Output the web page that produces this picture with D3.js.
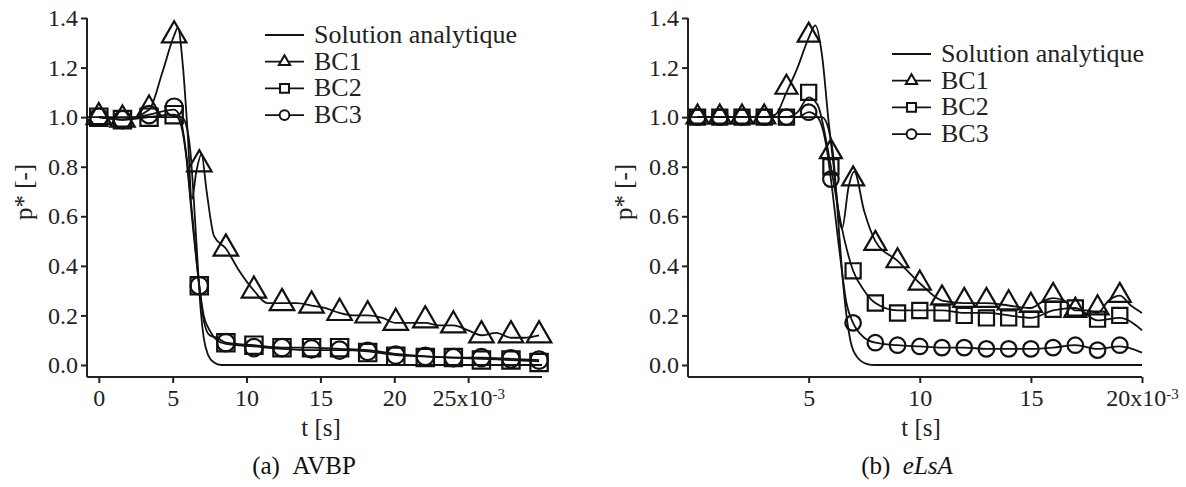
<!DOCTYPE html>
<html><head><meta charset="utf-8">
<script src="https://cdn.jsdelivr.net/npm/d3@7"></script>
<style>
html,body{margin:0;padding:0;background:#fff;}
svg{display:block;}
svg text{font-family:"Liberation Serif","Times New Roman",serif;}
</style></head>
<body><svg id="chart" width="1186" height="487"></svg>
<script>
// ---------- DATA ----------
const legendLabels = ["Solution analytique", "BC1", "BC2", "BC3"];
const yTicks = [0, 0.2, 0.4, 0.6, 0.8, 1.0, 1.2, 1.4];
const xTicksA = [0, 5, 10, 15, 20, 25];
const xTicksB = [5, 10, 15, 20];
const captionA = ["(a)", "AVBP"];
const captionB = ["(b)", "eLsA"];

// Panel (a) AVBP : marker times (x1e-3 s) and values
const tMarkA = [0, 1.6, 3.4, 5.1, 6.8, 8.6, 10.5, 12.4, 14.4, 16.3, 18.2, 20.1, 22.1, 24.0, 25.9, 27.9, 29.8];
const bc1A = [1.00, 0.99, 1.03, 1.33, 0.81, 0.47, 0.30, 0.25, 0.24, 0.21, 0.20, 0.17, 0.18, 0.16, 0.12, 0.12, 0.12];
const bc2A = [1.00, 0.99, 1.00, 1.01, 0.32, 0.09, 0.08, 0.07, 0.07, 0.07, 0.05, 0.035, 0.03, 0.03, 0.02, 0.02, 0.01];
const bc3A = [1.00, 0.99, 1.01, 1.04, 0.32, 0.09, 0.07, 0.07, 0.065, 0.06, 0.055, 0.04, 0.035, 0.03, 0.03, 0.025, 0.02];
const anaLineA = [[-0.8,1],[5.6,1],[5.9,0.97],[6.2,0.86],[6.5,0.6],[6.7,0.4],[6.9,0.22],[7.1,0.11],[7.4,0.04],[7.8,0.01],[8.3,0],[30,0]];
const bc1LineA = [[0,1],[1.6,0.99],[3.4,1.03],[4.3,1.18],[5.1,1.33],[5.35,1.36],[5.7,1.2],[6.0,0.95],[6.3,0.67],[6.6,0.78],[6.95,0.85],[7.3,0.7],[7.8,0.52],[8.6,0.47],[9.5,0.38],[10.5,0.3],[11.4,0.25],[12.4,0.25],[13.4,0.25],[14.4,0.24],[15.3,0.23],[16.3,0.21],[17.2,0.2],[18.2,0.2],[19.2,0.19],[20.1,0.17],[21.1,0.17],[22.1,0.17],[23.0,0.16],[24.0,0.16],[25.0,0.14],[25.9,0.12],[26.9,0.13],[27.9,0.11],[28.8,0.11],[29.8,0.12]];
const bc2LineA = [[0,1],[1.6,0.99],[3.4,1.0],[5.1,1.01],[5.5,0.98],[5.9,0.85],[6.3,0.6],[6.8,0.32],[7.1,0.18],[7.5,0.12],[8.0,0.11],[8.6,0.09],[10.5,0.08],[12.4,0.07],[14.4,0.07],[16.3,0.065],[18.2,0.06],[20.1,0.045],[22.1,0.035],[24.0,0.03],[25.9,0.025],[27.9,0.02],[29.8,0.015]];
const bc3LineA = [[0,1],[1.6,0.99],[3.4,1.01],[5.1,1.03],[5.5,1.0],[5.9,0.86],[6.3,0.62],[6.8,0.32],[7.1,0.2],[7.5,0.14],[8.0,0.1],[8.6,0.085],[10.5,0.075],[12.4,0.065],[14.4,0.06],[16.3,0.06],[18.2,0.055],[20.1,0.04],[22.1,0.035],[24.0,0.03],[25.9,0.03],[27.9,0.025],[29.8,0.02]];

// Panel (b) eLsA
const tMarkB = [0,1,2,3,4,5,6,7,8,9,10,11,12,13,14,15,16,17,18,19];
const bc1B = [1.0,1.0,1.0,1.0,1.12,1.33,0.86,0.75,0.49,0.42,0.33,0.27,0.26,0.26,0.25,0.24,0.28,0.22,0.23,0.28];
const bc2B = [1.0,1.0,1.0,1.0,1.0,1.1,0.8,0.38,0.25,0.21,0.22,0.21,0.2,0.19,0.19,0.185,0.225,0.23,0.185,0.2];
const bc3B = [1.0,1.0,1.0,1.0,1.0,1.02,0.75,0.17,0.09,0.08,0.075,0.07,0.07,0.065,0.065,0.065,0.07,0.08,0.06,0.08];
const anaLineB = [[-0.43,1],[5.6,1],[5.9,0.95],[6.1,0.85],[6.3,0.62],[6.5,0.38],[6.7,0.2],[6.9,0.09],[7.2,0.03],[7.6,0.005],[8,0],[20,0]];
const bc1LineB = [[0,1],[1,1],[2,1],[3,1],[3.5,1.01],[4,1.1],[4.5,1.2],[5,1.32],[5.3,1.37],[5.6,1.25],[5.9,0.98],[6.1,0.82],[6.5,0.55],[6.8,0.72],[7.05,0.78],[7.5,0.62],[8,0.5],[9,0.42],[10,0.33],[11,0.26],[12,0.25],[13,0.25],[14,0.24],[15,0.23],[15.6,0.26],[16,0.27],[16.5,0.26],[17,0.22],[17.5,0.22],[18,0.21],[18.5,0.26],[19,0.28],[19.5,0.24],[20,0.21]];
const bc2LineB = [[0,1],[4,1],[4.5,1.02],[5,1.08],[5.4,1.05],[5.8,0.9],[6,0.8],[6.5,0.55],[7,0.38],[7.5,0.3],[8,0.25],[9,0.22],[10,0.22],[11,0.22],[12,0.21],[13,0.21],[14,0.2],[15,0.19],[16,0.22],[17,0.23],[18,0.18],[19,0.19],[20,0.14]];
const bc3LineB = [[0,1],[4,1],[4.5,1.0],[5,1.02],[5.4,1.0],[5.8,0.88],[6,0.75],[6.4,0.45],[6.7,0.25],[7,0.17],[7.5,0.11],[8,0.09],[9,0.08],[10,0.075],[11,0.07],[12,0.07],[13,0.065],[14,0.065],[15,0.065],[16,0.07],[17,0.08],[18,0.065],[19,0.075],[20,0.05]];

// ---------- DRAW ----------
const svg = d3.select("#chart");
const FS = 24;
const SERIF = '"Liberation Serif","Times New Roman",serif';

function drawPanel(p) {
  const x = d3.scaleLinear().domain(p.xDomain).range(p.xRange);
  const y = d3.scaleLinear().domain([0, 1.4]).range([365, 18]);
  const axisY = 377;
  const g = svg.append("g");

  // axis lines
  g.append("line").attr("x1", x.range()[0]).attr("x2", x.range()[0])
    .attr("y1", y(1.4)).attr("y2", axisY).attr("stroke", "#222").attr("stroke-width", 2);
  g.append("line").attr("x1", x.range()[0]).attr("x2", x.range()[1])
    .attr("y1", axisY).attr("y2", axisY).attr("stroke", "#222").attr("stroke-width", 2);

  const ya = g.append("g").attr("transform", `translate(${x.range()[0]},0)`)
    .call(d3.axisLeft(y).tickValues(yTicks).tickFormat(d3.format(".1f")).tickSize(6).tickPadding(3));
  const xa = g.append("g").attr("transform", `translate(0,${axisY})`)
    .call(d3.axisBottom(x).tickValues(p.xTicks).tickFormat(d3.format("d")).tickSize(6).tickPadding(6));
  [ya, xa].forEach(a => {
    a.attr("font-family", SERIF);
    a.select(".domain").remove();
    a.selectAll(".tick line").attr("stroke", "#222").attr("stroke-width", 2);
    a.selectAll(".tick text").attr("fill", "#222").style("font-size", FS + "px")
      .style("font-family", SERIF);
  });
  const last = p.xTicks[p.xTicks.length - 1];
  xa.selectAll(".tick text").filter(d => d === last).each(function(d) {
    const t = d3.select(this).text("");
    t.append("tspan").text(d + "x10");
    t.append("tspan").attr("dy", "-0.45em").style("font-size", "15px").text("-3");
  });

  // axis titles
  g.append("text").attr("x", p.tLabelX).attr("y", 436).attr("text-anchor", "middle")
    .style("font-size", "25px").style("font-family", SERIF).attr("fill", "#222").text("t [s]");
  g.append("text").attr("transform", `translate(${p.pLabelX},192) rotate(-90)`)
    .attr("text-anchor", "middle").style("font-size", "25px").style("font-family", SERIF)
    .attr("fill", "#222").text("p* [-]");

  // lines
  const line = d3.line().x(d => x(d[0])).y(d => y(d[1])).curve(d3.curveMonotoneX);
  const lines = [p.ana, p.l1, p.l2, p.l3];
  g.selectAll("path.series").data(lines).enter().append("path")
    .attr("d", line).attr("fill", "none").attr("stroke", "#111").attr("stroke-width", 1.8);

  // markers
  const sym = [d3.symbolTriangle, d3.symbolSquare, d3.symbolCircle];
  const sizes = p.sizes;
  [p.v1, p.v2, p.v3].forEach((vals, k) => {
    g.selectAll(null).data(vals.map((v, i) => [p.tMark[i], v])).enter().append("path")
      .attr("d", d3.symbol().type(sym[k]).size(sizes[k]))
      .attr("transform", d => `translate(${x(d[0])},${y(d[1])})`)
      .attr("fill", "none").attr("stroke", "#111").attr("stroke-width", 2.2);
  });

  // legend
  const lg = g.append("g");
  legendLabels.forEach((lab, i) => {
    const yy = p.legY + i * 26.7;
    lg.append("line").attr("x1", p.legX).attr("x2", p.legX + 39).attr("y1", yy).attr("y2", yy)
      .attr("stroke", "#111").attr("stroke-width", 1.8);
    if (i > 0) {
      lg.append("path").attr("d", d3.symbol().type(sym[i - 1]).size([55, 80, 75][i - 1]))
        .attr("transform", `translate(${p.legX + 19.5},${yy})`)
        .attr("fill", "#fff").attr("stroke", "#111").attr("stroke-width", 2);
    }
    lg.append("text").attr("x", p.legX + 49).attr("y", yy + 8).style("font-size", "26px")
      .style("font-family", SERIF).attr("fill", "#222").text(lab);
  });

  // caption
  const cap = g.append("text").attr("x", p.capX).attr("y", 474).attr("text-anchor", "middle")
    .style("font-size", "25px").style("font-family", SERIF).attr("fill", "#111");
  cap.append("tspan").text(p.caption[0] + "\u00a0\u00a0");
  cap.append("tspan").style("font-style", p.italic ? "italic" : "normal").text(p.caption[1]);
}

drawPanel({
  xDomain: [-0.8, 30], xRange: [87, 542], xTicks: xTicksA,
  tMark: tMarkA, v1: bc1A, v2: bc2A, v3: bc3A,
  ana: anaLineA, l1: bc1LineA, l2: bc2LineA, l3: bc3LineA,
  sizes: [260, 300, 240],
  legX: 265, legY: 35, tLabelX: 321, pLabelX: 32, capX: 304, caption: captionA, italic: false
});
drawPanel({
  xDomain: [-0.43, 20], xRange: [688, 1142], xTicks: xTicksB,
  tMark: tMarkB, v1: bc1B, v2: bc2B, v3: bc3B,
  ana: anaLineB, l1: bc1LineB, l2: bc2LineB, l3: bc3LineB,
  sizes: [210, 230, 190],
  legX: 892, legY: 54, tLabelX: 921, pLabelX: 632, capX: 907, caption: captionB, italic: true
});
</script></body></html>
